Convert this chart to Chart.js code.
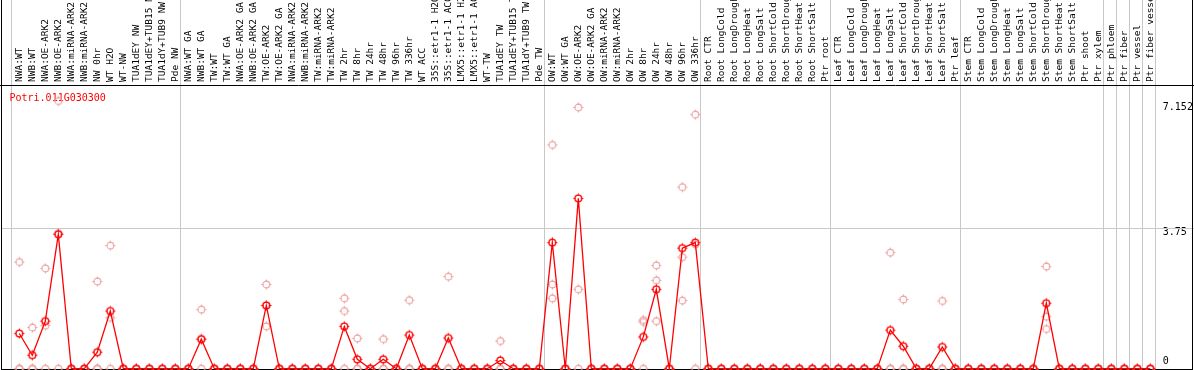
<!doctype html>
<html>
<head>
<meta charset="UTF-8">
<title>Potri.011G030300</title>
<script src="https://cdn.jsdelivr.net/npm/chart.js@4.4.1/dist/chart.umd.min.js"></script>
<style>
  html, body { margin: 0; padding: 0; background: #fff; }
  #wrap { width: 1194px; height: 370px; }
</style>
</head>
<body>
<div id="wrap"><canvas id="chart"></canvas></div>
<script>
var geneName = 'Potri.011G030300';

var samples = [
  'NWA:WT', 'NWB:WT', 'NWA:OE-ARK2', 'NWB:OE-ARK2', 'NWA:miRNA-ARK2', 'NWB:miRNA-ARK2', 'NW 0hr', 'WT H2O', 'WT-NW',
  'TUA1dEY NW', 'TUA1dEY+TUB15 NW', 'TUA1dY+TUB9 NW', 'Pde NW',
  'NWA:WT GA', 'NWB:WT GA', 'TW:WT', 'TW:WT GA', 'NWA:OE-ARK2 GA', 'NWB:OE-ARK2 GA', 'TW:OE-ARK2', 'TW:OE-ARK2 GA',
  'NWA:miRNA-ARK2', 'NWB:miRNA-ARK2', 'TW:miRNA-ARK2', 'TW:miRNA-ARK2', 'TW 2hr', 'TW 8hr', 'TW 24hr', 'TW 48hr',
  'TW 96hr', 'TW 336hr', 'WT ACC', '35S::etr1-1 H2O', '35S::etr1-1 ACC', 'LMX5::etr1-1 H2O', 'LMX5::etr1-1 ACC',
  'WT-TW', 'TUA1dEY TW', 'TUA1dEY+TUB15 TW', 'TUA1dY+TUB9 TW', 'Pde TW',
  'OW:WT', 'OW:WT GA', 'OW:OE-ARK2', 'OW:OE-ARK2 GA', 'OW:miRNA-ARK2', 'OW:miRNA-ARK2', 'OW 2hr', 'OW 8hr',
  'OW 24hr', 'OW 48hr', 'OW 96hr', 'OW 336hr',
  'Root CTR', 'Root LongCold', 'Root LongDrought', 'Root LongHeat', 'Root LongSalt', 'Root ShortCold',
  'Root ShortDrought', 'Root ShortHeat', 'Root ShortSalt', 'Ptr root',
  'Leaf CTR', 'Leaf LongCold', 'Leaf LongDrought', 'Leaf LongHeat', 'Leaf LongSalt', 'Leaf ShortCold',
  'Leaf ShortDrought', 'Leaf ShortHeat', 'Leaf ShortSalt', 'Ptr leaf',
  'Stem CTR', 'Stem LongCold', 'Stem LongDrought', 'Stem LongHeat', 'Stem LongSalt', 'Stem ShortCold',
  'Stem ShortDrought', 'Stem ShortHeat', 'Stem ShortSalt', 'Ptr shoot',
  'Ptr xylem', 'Ptr phloem', 'Ptr fiber', 'Ptr vessel', 'Ptr fiber vessel'
];

// mean expression (red line)
var meanExpr = [
  0.94, 0.36, 1.27, 3.59, 0, 0, 0.44, 1.54, 0, 0, 0, 0, 0,
  0, 0.79, 0, 0, 0, 0, 1.69, 0, 0, 0, 0, 0, 1.13, 0.25, 0, 0.25, 0, 0.90, 0, 0, 0.82, 0, 0, 0, 0.22, 0, 0, 0,
  3.37, 0, 4.55, 0, 0, 0, 0, 0.85, 2.12, 0, 3.22, 3.37,
  0, 0, 0, 0, 0, 0, 0, 0, 0, 0,
  0, 0, 0, 0, 1.03, 0.60, 0, 0, 0.58, 0,
  0, 0, 0, 0, 0, 0, 1.75, 0, 0, 0,
  0, 0, 0, 0, 0
];

// replicates (pink circles)
var rep1 = [
  2.85, 1.10, 2.68, 7.152, 0, 0, 2.33, 3.29, 0, 0, 0, 0, 0,
  0, 1.58, 0, 0, 0, 0, 2.25, 0, 0, 0, 0, 0, 1.88, 0.81, 0, 0.79, 0, 1.83, 0, 0, 2.46, 0, 0, 0, 0.74, 0, 0, 0,
  5.98, 0, 6.98, 0, 0, 0, 0, 1.30, 2.76, 0, 4.85, 6.79,
  0, 0, 0, 0, 0, 0, 0, 0, 0, 0,
  0, 0, 0, 0, 3.10, 1.85, 0, 0, 1.81, 0,
  0, 0, 0, 0, 0, 0, 2.73, 0, 0, 0,
  0, 0, 0, 0, 0
];
var rep2 = [
  0, 0, 1.15, 3.62, 0, 0, 0, 1.36, 0, 0, 0, 0, 0,
  0, 0.79, 0, 0, 0, 0, 1.13, 0, 0, 0, 0, 0, 1.54, 0, 0, 0, 0, 0, 0, 0, 0, 0, 0, 0, 0, 0, 0, 0,
  2.25, 0, 2.12, 0, 0, 0, 0, 1.25, 2.36, 0, 2.98, 3.32,
  0, 0, 0, 0, 0, 0, 0, 0, 0, 0,
  0, 0, 0, 0, 0, 0, 0, 0, 0, 0,
  0, 0, 0, 0, 0, 0, 1.39, 0, 0, 0,
  0, 0, 0, 0, 0
];
var rep3 = [
  0, 0, 0, 0, 0, 0, 0, 0, 0, 0, 0, 0, 0,
  0, 0, 0, 0, 0, 0, 1.69, 0, 0, 0, 0, 0, 0, 0, 0, 0, 0, 0, 0, 0, 0, 0, 0, 0, 0, 0, 0, 0,
  1.88, 0, 0, 0, 0, 0, 0, 0, 1.27, 0, 1.82, 0,
  0, 0, 0, 0, 0, 0, 0, 0, 0, 0,
  0, 0, 0, 0, 0, 0, 0, 0, 0, 0,
  0, 0, 0, 0, 0, 0, 1.06, 0, 0, 0,
  0, 0, 0, 0, 0
];

// index where each sample group starts (grey separators)
var groupStarts = [0, 13, 41, 53, 63, 73, 84, 85, 86, 87, 88];
var yTicks = [0, 3.75, 7.152];
var yMax = 7.58;

var MONO = '"DejaVu Sans Mono", "Liberation Mono", monospace';
var LABEL_SIZE = 9.5;

function marker(color, lw, r) {
  var c = document.createElement('canvas');
  c.width = 15; c.height = 15;
  var g = c.getContext('2d');
  g.strokeStyle = color;
  g.lineWidth = lw;
  g.beginPath();
  g.arc(7.5, 7.5, r, 0, Math.PI * 2);
  g.stroke();
  g.lineWidth = 1;
  g.beginPath();
  var a = 7.5 - r - 1.6, b = 7.5 - r + 0.6, d = 7.5 + r - 0.6, e = 7.5 + r + 1.6;
  g.moveTo(7.5, a); g.lineTo(7.5, b);
  g.moveTo(7.5, d); g.lineTo(7.5, e);
  g.moveTo(a, 7.5); g.lineTo(b, 7.5);
  g.moveTo(d, 7.5); g.lineTo(e, 7.5);
  g.stroke();
  return c;
}
var redMark = marker('#ff0000', 1.4, 3.4);
var pinkMark = marker('#eca0a0', 1.1, 3.4);

var framePlugin = {
  id: 'frame',
  beforeDatasetsDraw: function (chart) {
    var c = chart.ctx, a = chart.chartArea, xs = chart.scales.x, ys = chart.scales.y;
    var W = chart.width;
    c.save();
    // 3.75 grid line
    c.strokeStyle = '#c8c8c8';
    c.lineWidth = 1;
    var gy = Math.round(ys.getPixelForValue(3.75)) + 0.5;
    c.beginPath(); c.moveTo(2, gy); c.lineTo(W, gy); c.stroke();
    // group separators
    groupStarts.forEach(function (i) {
      var px = (i < samples.length ? xs.getPixelForValue(i) : xs.getPixelForValue(i - 1) + 13) - 6.5 - 1.5;
      var sx = Math.round(px) + 0.5;
      c.beginPath(); c.moveTo(sx, 0); c.lineTo(sx, a.bottom); c.stroke();
    });
    // black frame
    c.strokeStyle = '#000';
    var by = Math.round(a.bottom) + 0.5;
    c.beginPath();
    c.moveTo(0, a.top + 0.5); c.lineTo(W, a.top + 0.5);
    c.moveTo(1.5, 0); c.lineTo(1.5, by);
    c.moveTo(1, by); c.lineTo(W - 1, by);
    c.moveTo(W - 1.5, 0); c.lineTo(W - 1.5, by);
    c.stroke();
    // gene name
    c.fillStyle = '#ff0000';
    c.font = '10px ' + MONO;
    c.textBaseline = 'alphabetic';
    c.fillText(geneName, 9.5, 100.5);
    c.restore();
  }
};

var repStyle = {
  showLine: false,
  pointStyle: pinkMark,
  pointRadius: 4,
  clip: false,
  order: 1
};

new Chart(document.getElementById('chart'), {
  type: 'line',
  data: {
    labels: samples,
    datasets: [
      {
        label: geneName,
        data: meanExpr,
        borderColor: '#ff0000',
        borderWidth: 1.3,
        pointStyle: redMark,
        pointRadius: 4,
        tension: 0,
        fill: false,
        clip: false,
        order: 0
      },
      Object.assign({ label: 'rep1', data: rep1 }, repStyle),
      Object.assign({ label: 'rep2', data: rep2 }, repStyle),
      Object.assign({ label: 'rep3', data: rep3 }, repStyle)
    ]
  },
  options: {
    responsive: true,
    maintainAspectRatio: false,
    animation: false,
    layout: { autoPadding: false, padding: { left: 12.8, right: 0, top: 0, bottom: 1.3 } },
    plugins: {
      legend: { display: false },
      tooltip: { enabled: false }
    },
    scales: {
      x: {
        position: 'top',
        offset: true,
        grid: { display: false, drawTicks: false },
        border: { display: false },
        ticks: {
          autoSkip: false,
          minRotation: 90,
          maxRotation: 90,
          padding: 3,
          labelOffset: LABEL_SIZE * 1.2,
          color: '#000',
          font: { family: MONO, size: LABEL_SIZE }
        },
        afterFit: function (s) {
          s.height = 85;
          s.paddingLeft = 0;
          s.paddingRight = 0;
        }
      },
      y: {
        position: 'right',
        min: 0,
        max: yMax,
        grid: { display: false, drawTicks: false },
        border: { display: false },
        afterBuildTicks: function (s) {
          s.ticks = yTicks.map(function (v) { return { value: v }; });
        },
        ticks: {
          padding: 6,
          color: '#000',
          font: function (ctx) {
            var v = ctx.tick ? ctx.tick.value : null;
            var lh = v === 0 ? 1.4 : (v === 3.75 ? 0.8 : 1.2);
            return { family: MONO, size: 10, lineHeight: lh };
          },
          callback: function (v) {
            return v === 0 ? ['0', ''] : ['', String(v)];
          }
        },
        afterFit: function (s) {
          s.width = 37.2;
          s.paddingTop = 0;
          s.paddingBottom = 0;
        }
      }
    }
  },
  plugins: [framePlugin]
});
</script>
</body>
</html>
